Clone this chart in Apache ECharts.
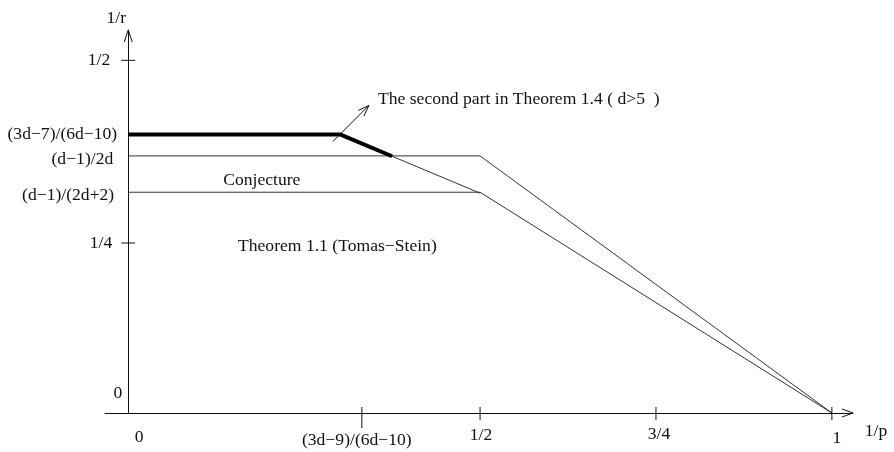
<!DOCTYPE html>
<html>
<head>
<meta charset="utf-8">
<script src="https://cdn.jsdelivr.net/npm/echarts@6/dist/echarts.min.js"></script>
<style>
html,body{margin:0;padding:0;background:#fff;}
#chart{width:894px;height:452px;}
</style>
</head>
<body>
<div id="chart"></div>
<script>
// ---- data (schematic positions, in 1/p and 1/r units) ----
const xTickValues = [0, 0.332, 0.5, 0.75, 1];
const xTickLabels = ['0', '(3d\u22129)/(6d\u221210)', '1/2', '3/4', '1'];
const yTickValues = [0, 0.241, 0.313, 0.3645, 0.395, 0.5];
const yTickLabels = ['0', '1/4', '(d\u22121)/(2d+2)', '(d\u22121)/2d', '(3d\u22127)/(6d\u221210)', '1/2'];

const thickX = [0, 0.301, 0.375];
const thickY = [0.395, 0.395, 0.364];
const upperX = [0, 0.5, 1];
const upperY = [0.3645, 0.3645, 0];
const lowerX = [0, 0.5, 1];
const lowerY = [0.313, 0.313, 0];
const slopeX = [0.375, 0.5];
const slopeY = [0.364, 0.3117];
const pointerX = [0.291, 0.342];
const pointerY = [0.385, 0.436];

const noteTexts = ['The second part in Theorem 1.4 ( d>5  )', 'Conjecture', 'Theorem 1.1 (Tomas\u2212Stein)'];
const noteX = [0.355, 0.135, 0.156];
const noteY = [0.444, 0.330, 0.236];

const xAxisName = '1/p';
const yAxisName = '1/r';

// ---- build ----
const zip = (xs, ys) => xs.map((x, i) => [x, ys[i]]);
const FONT = '17.6px "Liberation Serif", "Times New Roman", serif';
const INK = '#111';

function lineSeries(xs, ys, width, color) {
  return {
    type: 'line', data: zip(xs, ys), symbol: 'none', silent: true,
    lineStyle: { width: width, color: color }, z: 3, animation: false
  };
}

function arrowHead(tip, from, len, half) {
  const dx = tip[0] - from[0], dy = tip[1] - from[1];
  const L = Math.sqrt(dx * dx + dy * dy);
  const ux = dx / L, uy = dy / L;
  const bx = tip[0] - ux * len, by = tip[1] - uy * len;
  return {
    type: 'polyline',
    shape: { points: [[bx - uy * half, by + ux * half], tip, [bx + uy * half, by - ux * half]] },
    style: { stroke: INK, lineWidth: 1, fill: null }
  };
}

function renderDecor(params, api) {
  const children = [];
  const tickX = { 0.332: [-6, 15], 0.5: [-6, 7], 0.75: [-6, 7], 1: [-6, 7] };
  // x ticks and labels
  xTickValues.forEach((v, i) => {
    const p = api.coord([v, 0]);
    if (tickX[v]) {
      children.push({ type: 'line', shape: { x1: p[0], y1: p[1] + tickX[v][0], x2: p[0], y2: p[1] + tickX[v][1] },
        style: { stroke: INK, lineWidth: 1 } });
    }
    let dx = 0, dy = 24;
    if (i === 0) { dx = 11; }
    if (i === 1) { dx = -5; dy = 27; }
    if (i === 2) { dx = 1; dy = 22; }
    if (i === 3) { dx = 3; dy = 21; }
    if (i === 4) { dx = 5; dy = 25; }
    children.push({ type: 'text', style: { text: xTickLabels[i], x: p[0] + dx, y: p[1] + dy,
      textAlign: 'center', textVerticalAlign: 'middle', verticalAlign: 'middle', font: FONT, fill: INK } });
  });
  // y ticks and labels
  const yLabelDx = [-6, -16, -14, -15, -11, -18];
  yTickValues.forEach((v, i) => {
    const p = api.coord([0, v]);
    if (v === 0.241 || v === 0.5) {
      children.push({ type: 'line', shape: { x1: p[0] - 7, y1: p[1], x2: p[0] + 7, y2: p[1] },
        style: { stroke: INK, lineWidth: 1 } });
    }
    let dy = 0;
    if (i === 0) { dy = -20; }
    if (i === 2 || i === 3) { dy = 3; }
    children.push({ type: 'text', style: { text: yTickLabels[i], x: p[0] + yLabelDx[i], y: p[1] + dy,
      textAlign: 'right', textVerticalAlign: 'middle', verticalAlign: 'middle', font: FONT, fill: INK } });
  });
  // axis arrow heads and names
  const xEnd = api.coord([1.03, 0]);
  children.push(arrowHead(xEnd, [xEnd[0] - 10, xEnd[1]], 11, 4));
  const o = api.coord([0, 0]);
  const yEnd = api.coord([0, 0.543]);
  children.push(arrowHead([o[0], yEnd[1]], [o[0], yEnd[1] + 10], 12, 4));
  children.push({ type: 'text', style: { text: xAxisName, x: xEnd[0] + 23, y: xEnd[1] + 18,
    textAlign: 'center', textVerticalAlign: 'middle', verticalAlign: 'middle', font: FONT, fill: INK } });
  children.push({ type: 'text', style: { text: yAxisName, x: o[0] - 12, y: yEnd[1] - 12,
    textAlign: 'center', textVerticalAlign: 'middle', verticalAlign: 'middle', font: FONT, fill: INK } });
  // pointer arrow
  const a0 = api.coord([pointerX[0], pointerY[0]]);
  const a1 = api.coord([pointerX[1], pointerY[1]]);
  children.push({ type: 'line', shape: { x1: a0[0], y1: a0[1], x2: a1[0], y2: a1[1] }, style: { stroke: INK, lineWidth: 1 } });
  children.push(arrowHead(a1, a0, 11, 4));
  // notes
  noteTexts.forEach((t, i) => {
    const p = api.coord([noteX[i], noteY[i]]);
    children.push({ type: 'text', style: { text: t, x: p[0], y: p[1],
      textAlign: 'left', textVerticalAlign: 'middle', verticalAlign: 'middle', font: FONT, fill: INK } });
  });
  return { type: 'group', children: children };
}

const chart = echarts.init(document.getElementById('chart'), null, { renderer: 'canvas' });
chart.setOption({
  animation: false,
  backgroundColor: '#fff',
  grid: { left: 105, right: 41, top: 30, bottom: 39 },
  xAxis: {
    type: 'value', min: -0.033, max: 1.03,
    axisLine: { show: true, onZero: true, lineStyle: { color: INK, width: 1.2 } },
    axisTick: { show: false }, axisLabel: { show: false }, splitLine: { show: false }
  },
  yAxis: {
    type: 'value', min: 0, max: 0.543,
    axisLine: { show: true, onZero: true, lineStyle: { color: INK, width: 1 } },
    axisTick: { show: false }, axisLabel: { show: false }, splitLine: { show: false }
  },
  series: [
    lineSeries(upperX, upperY, 1, '#333'),
    lineSeries(lowerX, lowerY, 1, '#333'),
    lineSeries(slopeX, slopeY, 1, '#333'),
    lineSeries(thickX, thickY, 4, '#000'),
    {
      type: 'custom', data: [[0, 0]], renderItem: renderDecor, clip: false, silent: true, z: 5
    }
  ]
});
</script>
</body>
</html>
